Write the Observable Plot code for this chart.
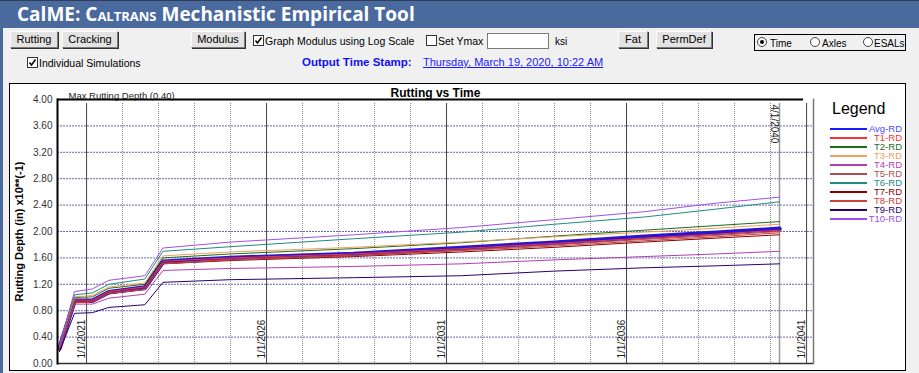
<!DOCTYPE html>
<html><head><meta charset="utf-8">
<script src="https://cdn.jsdelivr.net/npm/d3@7"></script>
<script src="https://cdn.jsdelivr.net/npm/@observablehq/plot@0.6"></script>
<style>
html,body{margin:0;padding:0;}
body{width:919px;height:373px;overflow:hidden;background:#f0f0f0;position:relative;font-family:"Liberation Sans",Arial,sans-serif;font-size:11px;color:#000;}
.abs{position:absolute;white-space:nowrap;}
#titlebar{left:0;top:0;width:919px;height:28px;background:#4a6a9e;border-top:1px solid #2e3f5c;box-sizing:border-box;}
#title{left:17px;top:1px;color:#fff;font:bold 19px "Open Sans",sans-serif;}
.sc{font-variant:small-caps;}
#leftedge{left:0;top:28px;width:3px;height:345px;background:#4a6a9e;}
.btn{position:absolute;height:17px;box-sizing:border-box;background:#e3e3e3;border:1px solid;border-color:#fdfdfd #7a7a7a #7a7a7a #fdfdfd;box-shadow:1px 1px 0 #333;font-size:11px;line-height:14px;text-align:center;}
.chk{position:absolute;width:11px;height:11px;box-sizing:border-box;border:1px solid #333;background:#fff;}
.rad{position:absolute;width:10px;height:10px;box-sizing:border-box;border:1px solid #444;border-radius:50%;background:#fff;}
.lbl{position:absolute;white-space:nowrap;font-size:10.5px;}
#panel{position:absolute;left:9px;top:83px;width:897px;height:288px;box-sizing:border-box;border:1px solid #000;background:#fff;}
#legend{position:absolute;left:810px;top:16px;width:82px;}
.lgrow{position:relative;height:9px;line-height:9px;font-size:9.5px;text-align:right;}
.lgline{position:absolute;left:10px;top:4px;width:37px;height:2px;}
</style>
</head><body>
<div id="titlebar" class="abs"></div>
<div id="title" class="abs">CalME: <span class="sc">Caltrans</span> Mechanistic Empirical Tool</div>
<div id="leftedge" class="abs"></div>

<div class="btn" style="left:10px;top:31px;width:48px;">Rutting</div>
<div class="btn" style="left:62px;top:31px;width:56px;">Cracking</div>
<div class="btn" style="left:191px;top:31px;width:54px;">Modulus</div>
<div class="chk" style="left:253px;top:35px;"><svg width="9" height="9" style="position:absolute;left:0;top:0"><polyline points="1.5,4.5 3.5,7 7.5,1.5" fill="none" stroke="#000" stroke-width="1.5"/></svg></div>
<div class="lbl" style="left:265px;top:35px;">Graph Modulus using Log Scale</div>
<div class="chk" style="left:426px;top:35px;"></div>
<div class="lbl" style="left:438px;top:35px;">Set Ymax</div>
<div class="abs" style="left:487px;top:33px;width:62px;height:16px;box-sizing:border-box;background:#fff;border:1px solid #7a7a7a;"></div>
<div class="lbl" style="left:555px;top:36px;font-size:10px;">ksi</div>
<div class="btn" style="left:618px;top:31px;width:30px;">Fat</div>
<div class="btn" style="left:656px;top:31px;width:56px;">PermDef</div>
<div class="abs" style="left:754px;top:34px;width:152px;height:17px;box-sizing:border-box;border:1px solid #000;"></div>
<div class="rad" style="left:757px;top:37px;"><div style="position:absolute;left:2px;top:2px;width:4px;height:4px;border-radius:50%;background:#000;"></div></div>
<div class="lbl" style="left:770px;top:38px;font-size:10px;">Time</div>
<div class="rad" style="left:810px;top:37px;"></div>
<div class="lbl" style="left:822px;top:38px;font-size:10px;">Axles</div>
<div class="rad" style="left:863px;top:37px;"></div>
<div class="lbl" style="left:874px;top:38px;font-size:10px;">ESALs</div>

<div class="chk" style="left:27px;top:57px;"><svg width="9" height="9" style="position:absolute;left:0;top:0"><polyline points="1.5,4.5 3.5,7 7.5,1.5" fill="none" stroke="#000" stroke-width="1.5"/></svg></div>
<div class="lbl" style="left:39px;top:57px;">Individual Simulations</div>
<div class="lbl" style="left:302px;top:56px;font-size:11.5px;font-weight:bold;color:#1010ff;">Output Time Stamp:</div>
<div class="lbl" style="left:423px;top:56px;font-size:11px;color:#1a1aff;text-decoration:underline;">Thursday, March 19, 2020, 10:22 AM</div>

<div id="panel"><div id="chart"></div><div id="legend"></div></div>

<script>
// ---- data ----
const dates = ["2020-04-01","2020-09-01","2021-03-01","2021-08-15","2022-08-15","2023-02-15","2025-01-01","2028-06-01","2031-06-01","2034-01-01","2036-07-01","2038-07-01","2040-04-01"];
const seriesNames = ["Avg-RD","T1-RD","T2-RD","T3-RD","T4-RD","T5-RD","T6-RD","T7-RD","T8-RD","T9-RD","T10-RD"];
const avgRD = [0.23,0.95,0.95,1.08,1.15,1.54,1.60,1.66,1.75,1.83,1.92,1.98,2.04];
const t1RD  = [0.23,0.96,0.96,1.09,1.16,1.55,1.60,1.66,1.74,1.82,1.90,1.96,2.02];
const t2RD  = [0.25,1.00,1.01,1.14,1.20,1.60,1.66,1.74,1.83,1.93,2.02,2.09,2.15];
const t3RD  = [0.25,1.01,1.03,1.16,1.22,1.63,1.69,1.76,1.84,1.92,1.99,2.05,2.11];
const t4RD  = [0.20,0.90,0.90,0.99,1.05,1.41,1.44,1.47,1.51,1.57,1.62,1.66,1.70];
const t5RD  = [0.22,0.94,0.94,1.07,1.13,1.52,1.58,1.64,1.72,1.80,1.88,1.94,2.00];
const t6RD  = [0.26,1.04,1.07,1.20,1.28,1.70,1.77,1.89,1.99,2.11,2.22,2.34,2.45];
const t7RD  = [0.21,0.93,0.93,1.06,1.12,1.51,1.56,1.62,1.69,1.76,1.84,1.90,1.95];
const t8RD  = [0.22,0.92,0.93,1.06,1.12,1.51,1.57,1.63,1.71,1.78,1.86,1.92,1.98];
const t9RD  = [0.18,0.76,0.77,0.85,0.89,1.23,1.27,1.30,1.33,1.40,1.45,1.48,1.51];
const t10RD = [0.27,1.09,1.13,1.26,1.33,1.75,1.84,1.95,2.06,2.18,2.30,2.43,2.52];
const seriesValues = [avgRD,t1RD,t2RD,t3RD,t4RD,t5RD,t6RD,t7RD,t8RD,t9RD,t10RD];
const seriesColors = ["#2a14d0","#ff3030","#1e6b1e","#f0a060","#b040b0","#a85050","#208c80","#8b0000","#c84040","#2a0070","#a050e8"];
const legendTextColors = ["#4a4aff","#ff3030","#1e6b1e","#f0a060","#b040b0","#a85050","#208c80","#8b0000","#c84040","#2a0070","#a050e8"];
const legendLineColors = ["#1a1aff","#ff3030","#1e6b1e","#f0a060","#b040b0","#a85050","#208c80","#8b0000","#c84040","#2a0070","#a050e8"];

const yTicks = [0,0.4,0.8,1.2,1.6,2.0,2.4,2.8,3.2,3.6,4.0];
const yGrid = [0.4,0.8,1.2,1.6,2.0,2.4,2.8,3.2,3.6];
const maxRut = 4.0;
const maxRutLabel = "Max Rutting Depth (0.40)";
const minorYears = ["2022-01-01","2023-01-01","2024-01-01","2025-01-01","2027-01-01","2028-01-01","2029-01-01","2030-01-01","2032-01-01","2033-01-01","2034-01-01","2035-01-01","2037-01-01","2038-01-01","2039-01-01","2040-01-01"];
const majorYears = ["2021-01-01","2026-01-01","2031-01-01","2036-01-01","2041-01-01"];
const majorLabels = ["1/1/2021","1/1/2026","1/1/2031","1/1/2036","1/1/2041"];
const endDate = "2040-04-01";
const endLabel = "4/1/2040";
const xDomain = ["2020-03-12","2041-03-12"];
const chartTitle = "Rutting vs Time";
const yLabel = "Rutting Depth (in) x10**(-1)";

// ---- build ----
const rows = [];
seriesNames.forEach((n, si) => seriesValues[si].forEach((v, i) => rows.push({name: n, si, date: new Date(dates[i]), value: v})));
const avgRows = rows.filter(r => r.si === 0);
const indRows = rows.filter(r => r.si !== 0);
const colorOf = Object.fromEntries(seriesNames.map((n, i) => [n, seriesColors[i]]));

const chart = Plot.plot({
  width: 812, height: 286,
  marginLeft: 47, marginRight: 9, marginTop: 15, marginBottom: 7,
  style: {background: "transparent", fontFamily: "Liberation Sans, Arial, sans-serif", fontSize: "10px", overflow: "visible"},
  x: {type: "utc", domain: xDomain.map(d => new Date(d)), axis: null},
  y: {domain: [0, 4], axis: null},
  marks: [
    Plot.ruleY(yGrid, {stroke: "#6a6ab0", strokeDasharray: "2,1", strokeWidth: 1}),
    Plot.ruleX(minorYears.map(d => new Date(d)), {stroke: "#8a8a8a", strokeDasharray: "1,1", strokeWidth: 1, insetTop: 4}),
    Plot.ruleX(majorYears.map(d => new Date(d)), {stroke: "#444", strokeWidth: 1, insetTop: 4}),
    Plot.ruleX([new Date(endDate)], {stroke: "#999", strokeWidth: 1.5, insetTop: 4}),
    Plot.line(avgRows, {x: "date", y: "value", stroke: colorOf["Avg-RD"], strokeWidth: 4.5}),
    Plot.line(indRows, {x: "date", y: "value", z: "name", stroke: d => colorOf[d.name], strokeWidth: 1}),
    Plot.ruleY([maxRut], {stroke: "#000", strokeWidth: 2, insetRight: 10}),
    Plot.ruleY([0], {stroke: "#333", strokeWidth: 1.5}),
    Plot.frame({anchor: "left", stroke: "#000", strokeWidth: 2}),
    Plot.frame({anchor: "right", stroke: "#777", strokeWidth: 1.5}),
    Plot.axisY(yTicks, {tickSize: 0, tickPadding: 5, tickFormat: d => d.toFixed(2), fill: "#333", fontSize: 10, label: null}),
    Plot.text(majorYears.map((d, i) => ({d: new Date(d), t: majorLabels[i]})), {x: "d", text: "t", frameAnchor: "bottom", rotate: -90, textAnchor: "start", lineAnchor: "middle", dx: -5, dy: -5, fill: "#222", fontSize: 10}),
    Plot.text([{d: new Date(endDate), t: endLabel}], {x: "d", text: "t", frameAnchor: "top", rotate: 90, textAnchor: "start", lineAnchor: "middle", dx: -5, dy: 5, fill: "#222", fontSize: 10}),
    Plot.text([chartTitle], {frameAnchor: "top", lineAnchor: "bottom", dy: -3, fontWeight: "bold", fontSize: 12, fill: "#000"}),
    Plot.text([maxRutLabel], {frameAnchor: "top-left", textAnchor: "start", lineAnchor: "bottom", dx: 11, dy: -1, fontSize: 9.5, fill: "#222"}),
    Plot.text([yLabel], {frameAnchor: "left", rotate: -90, textAnchor: "middle", lineAnchor: "middle", dx: -38, fontWeight: "bold", fontSize: 11, fill: "#000"})
  ]
});
document.getElementById("chart").appendChild(chart);

// legend
const lg = document.getElementById("legend");
const title = document.createElement("div");
title.textContent = "Legend";
title.style.cssText = "font-size:16px;line-height:18px;margin-left:12px;margin-bottom:6px;color:#000;";
lg.appendChild(title);
seriesNames.forEach((n, i) => {
  const row = document.createElement("div");
  row.className = "lgrow";
  row.style.color = legendTextColors[i];
  const ln = document.createElement("span");
  ln.className = "lgline";
  ln.style.background = legendLineColors[i];
  row.appendChild(ln);
  row.appendChild(document.createTextNode(n));
  lg.appendChild(row);
});
</script>
</body></html>
